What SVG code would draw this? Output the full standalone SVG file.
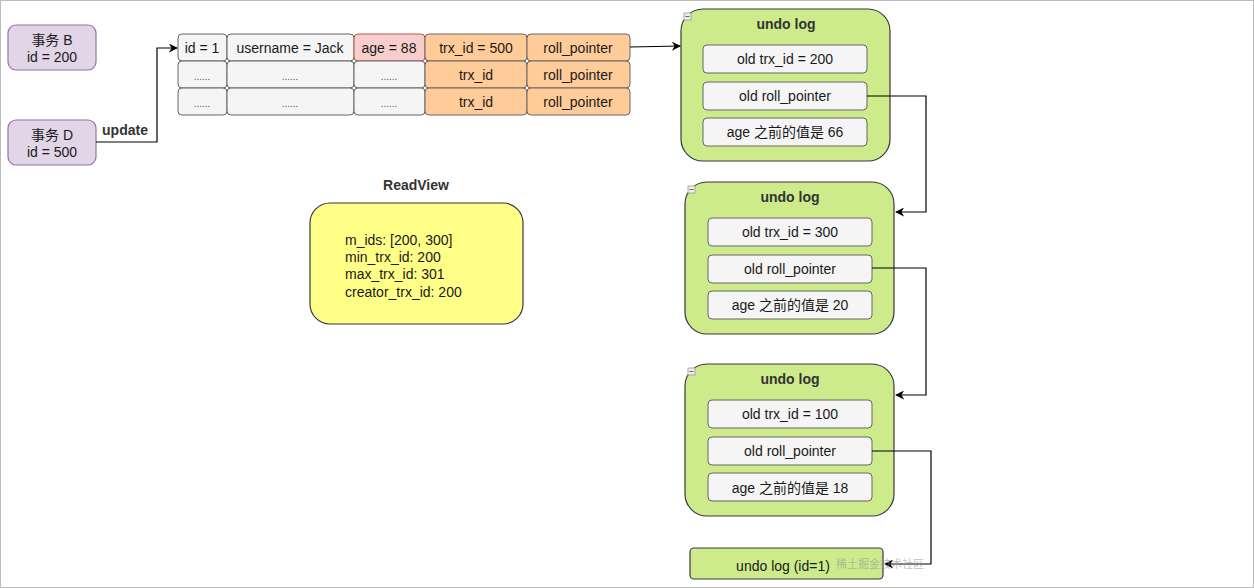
<svg xmlns="http://www.w3.org/2000/svg" width="1254" height="588" viewBox="0 0 1254 588">
<defs>
<marker id="arr" viewBox="0 0 10 10" refX="9" refY="5" markerWidth="9" markerHeight="9" orient="auto" markerUnits="userSpaceOnUse"><path d="M0,0 L10,5 L0,10 L3,5 Z" fill="#000"/></marker>
</defs>
<style>
text{font-family:"Liberation Sans","Noto Sans CJK SC",sans-serif;font-size:14px;fill:#1a1a1a;text-anchor:middle;dominant-baseline:central}
.b{font-weight:bold;fill:#333}
.tx{fill:#e1d5e7;stroke:#9673a6;stroke-width:1.2}
.g{fill:#f5f5f5;stroke:#666;stroke-width:1}
.p{fill:#f8cecc;stroke:#b85450;stroke-width:1}
.o{fill:#ffcc99;stroke:#666;stroke-width:1}
.u{fill:#cdeb8b;stroke:#36393d;stroke-width:1.2}
.rv{fill:#ffff88;stroke:#36393d;stroke-width:1.2}
.c{fill:none;stroke:#000;stroke-width:1.2;marker-end:url(#arr)}
.dots{font-size:10px;fill:#555}
.ic{fill:#eee;stroke:#999;stroke-width:0.8}
.lt{text-anchor:start}
</style>
<rect x="0.5" y="0.5" width="1253" height="587" fill="#fff" stroke="#bbb"/>

<g id="txB"><rect class="tx" x="8" y="25" width="88" height="45" rx="8"/><text x="52" y="40">事务 B</text><text x="52" y="57">id = 200</text></g>
<g id="txD"><rect class="tx" x="8" y="120" width="88" height="45" rx="8"/><text x="52" y="135">事务 D</text><text x="52" y="152">id = 500</text></g>

<g id="table">
<rect class="g" x="178" y="34" width="49" height="27" rx="4"/><text x="202" y="48">id = 1</text>
<rect class="g" x="227" y="34" width="127" height="27" rx="4"/><text x="290" y="48">username = Jack</text>
<rect class="p" x="354" y="34" width="71" height="27" rx="4"/><text x="389" y="48">age = 88</text>
<rect class="o" x="425" y="34" width="102" height="27" rx="4"/><text x="476" y="48">trx_id = 500</text>
<rect class="o" x="527" y="34" width="103" height="27" rx="4"/><text x="578" y="48">roll_pointer</text>
<rect class="g" x="178" y="61" width="49" height="27" rx="4"/><text class="dots" x="202" y="76">......</text>
<rect class="g" x="227" y="61" width="127" height="27" rx="4"/><text class="dots" x="290" y="76">......</text>
<rect class="g" x="354" y="61" width="71" height="27" rx="4"/><text class="dots" x="389" y="76">......</text>
<rect class="o" x="425" y="61" width="102" height="27" rx="4"/><text x="476" y="75">trx_id</text>
<rect class="o" x="527" y="61" width="103" height="27" rx="4"/><text x="578" y="75">roll_pointer</text>
<rect class="g" x="178" y="88" width="49" height="27" rx="4"/><text class="dots" x="202" y="103">......</text>
<rect class="g" x="227" y="88" width="127" height="27" rx="4"/><text class="dots" x="290" y="103">......</text>
<rect class="g" x="354" y="88" width="71" height="27" rx="4"/><text class="dots" x="389" y="103">......</text>
<rect class="o" x="425" y="88" width="102" height="27" rx="4"/><text x="476" y="102">trx_id</text>
<rect class="o" x="527" y="88" width="103" height="27" rx="4"/><text x="578" y="102">roll_pointer</text>
</g>

<g id="undo1">
<rect class="u" x="681" y="9" width="209" height="152" rx="22"/>
<rect class="ic" x="684" y="13" width="7" height="7"/><line x1="685.5" y1="16.5" x2="689.5" y2="16.5" stroke="#666"/>
<text class="b" x="786" y="24">undo log</text>
<rect class="g" x="703" y="45" width="164" height="28" rx="4"/><text x="785" y="59">old trx_id = 200</text>
<rect class="g" x="703" y="82" width="164" height="28" rx="4"/><text x="785" y="96">old roll_pointer</text>
<rect class="g" x="703" y="118" width="164" height="28" rx="4"/><text x="785" y="132">age 之前的值是 66</text>
</g>

<g id="undo2">
<rect class="u" x="685" y="182" width="209" height="152" rx="22"/>
<rect class="ic" x="688" y="186" width="7" height="7"/><line x1="689.5" y1="189.5" x2="693.5" y2="189.5" stroke="#666"/>
<text class="b" x="790" y="197">undo log</text>
<rect class="g" x="708" y="218" width="164" height="28" rx="4"/><text x="790" y="232">old trx_id = 300</text>
<rect class="g" x="708" y="255" width="164" height="28" rx="4"/><text x="790" y="269">old roll_pointer</text>
<rect class="g" x="708" y="291" width="164" height="28" rx="4"/><text x="790" y="305">age 之前的值是 20</text>
</g>

<g id="undo3">
<rect class="u" x="685" y="364" width="209" height="152" rx="22"/>
<rect class="ic" x="688" y="368" width="7" height="7"/><line x1="689.5" y1="371.5" x2="693.5" y2="371.5" stroke="#666"/>
<text class="b" x="790" y="379">undo log</text>
<rect class="g" x="708" y="400" width="164" height="28" rx="4"/><text x="790" y="414">old trx_id = 100</text>
<rect class="g" x="708" y="437" width="164" height="28" rx="4"/><text x="790" y="451">old roll_pointer</text>
<rect class="g" x="708" y="473" width="164" height="28" rx="4"/><text x="790" y="488">age 之前的值是 18</text>
</g>

<g id="undo4">
<rect class="u" x="690" y="548" width="193" height="31" rx="4"/>
<text x="783" y="566">undo log (id=1)</text>
</g>

<g id="readview">
<text class="b" x="416" y="185">ReadView</text>
<rect class="rv" x="310" y="203" width="213" height="121" rx="20"/>
<text class="lt" x="345" y="240">m_ids: [200, 300]</text>
<text class="lt" x="345" y="257">min_trx_id: 200</text>
<text class="lt" x="345" y="274">max_trx_id: 301</text>
<text class="lt" x="345" y="292">creator_trx_id: 200</text>
</g>

<g id="connectors">
<path class="c" d="M96,142 H157 V48 H177"/>
<text class="b" x="125" y="130">update</text>
<path class="c" d="M630,47 L680,46"/>
<path class="c" d="M867,96 H926 V212 H896"/>
<path class="c" d="M872,268 H926 V395 H896"/>
<path class="c" d="M872,451 H931 V564 H885"/>
</g>

<text class="lt" x="836" y="564" style="fill:#999;opacity:0.6;font-size:11px">稀土掘金技术社区</text>
</svg>
